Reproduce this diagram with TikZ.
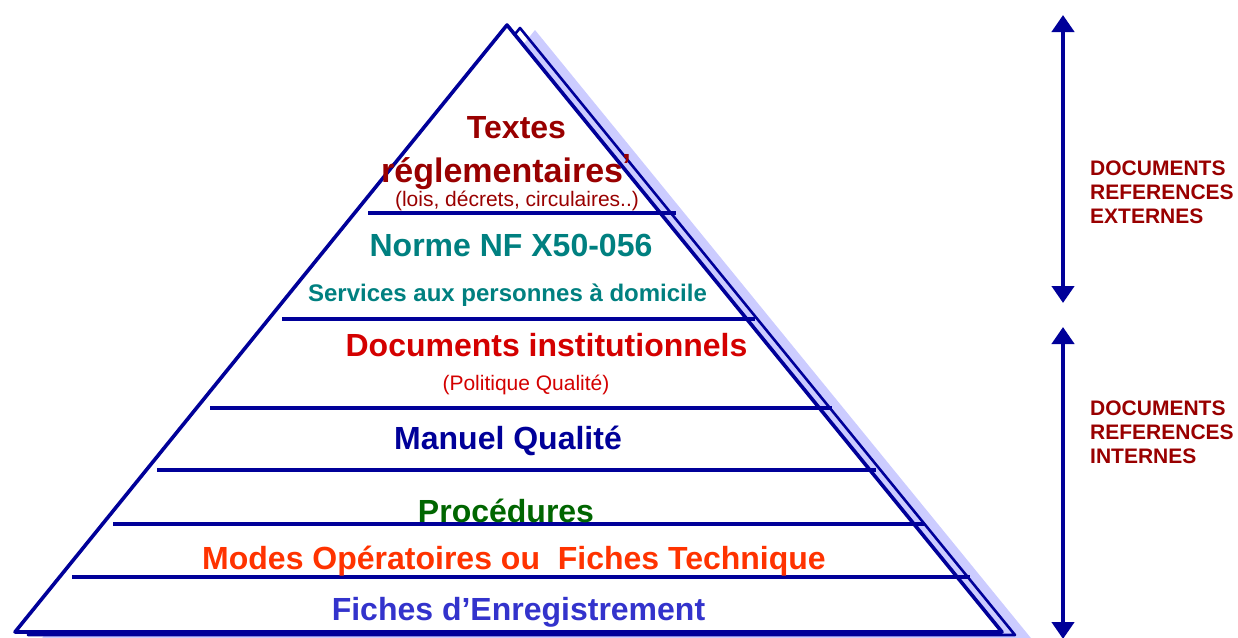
\documentclass[tikz,border=0pt]{standalone}
\usepackage{fontspec}
\setmainfont{Liberation Sans}
\usetikzlibrary{arrows.meta}
\definecolor{navy}{HTML}{000099}
\definecolor{shadowblue}{HTML}{CCCCFF}
\definecolor{darkred}{HTML}{990000}
\definecolor{tealtxt}{HTML}{008080}
\definecolor{redtxt}{HTML}{D40000}
\definecolor{greentxt}{HTML}{006600}
\definecolor{orangetxt}{HTML}{FF3300}
\definecolor{bluetxt}{HTML}{3333CC}
\begin{document}
\begin{tikzpicture}[x=1pt,y=-1pt,
  big/.style={inner sep=0pt, anchor=base, font=\bfseries\fontsize{32}{38}\selectfont},
  mid/.style={inner sep=0pt, anchor=base, font=\bfseries\fontsize{24}{28}\selectfont},
  small/.style={inner sep=0pt, anchor=base, font=\fontsize{21}{25}\selectfont},
  side/.style={inner sep=0pt, anchor=base west, text=darkred,
    font=\bfseries\fontsize{21}{24}\selectfont},
  layer/.style={draw=navy, line width=3.2pt},
  span/.style={draw=navy, line width=4.5pt,
    {Triangle[width=22pt,length=17pt]}-{Triangle[width=22pt,length=17pt]}}]
\useasboundingbox (0,0) rectangle (1238,637);
\clip (0,0) rectangle (1238,637);

% drop shadow of the pyramid
\fill[shadowblue] (535,30) -- (1032.5,640) -- (40.6,640) -- cycle;
% offset outline
\draw[navy, line width=2.6pt, line join=round] (520,28) -- (1015,635) -- (28,635) -- cycle;
% main pyramid
\draw[navy, fill=white, line width=3.6pt, line join=round] (507,25) -- (1002,632) -- (15,632) -- cycle;

% layer separators
\draw[layer] (368,213) -- (676,213);
\draw[layer] (282,319) -- (755,319);
\draw[layer] (210,408) -- (832,408);
\draw[layer] (157,470) -- (876,470);
\draw[layer] (113,524) -- (925,524);
\draw[layer] (72,577) -- (970,577);

% layer texts
\node[big, text=darkred] (t1) at (516.5,138) {Textes};
\node[big, text=darkred, anchor=base west, font=\bfseries\fontsize{34}{40}\selectfont] (t2) at (381,182) {réglementaires};
\node[big, text=darkred, anchor=base west] (t2q) at (622,176) {’};
\node[small, text=darkred] (t3) at (517,206) {(lois, décrets, circulaires..)};
\node[big, text=tealtxt] (n1) at (511,256) {Norme NF X50-056};
\node[mid, text=tealtxt] (n2) at (507.5,301) {Services aux personnes à domicile};
\node[big, text=redtxt] (d1) at (546.5,356) {Documents institutionnels};
\node[small, text=redtxt] (d2) at (526,390) {(Politique Qualité)};
\node[big, text=navy] (mq) at (508,449) {Manuel Qualité};
\node[big, text=greentxt] (pr) at (506,522) {Procédures};
\node[big, text=orangetxt] (mo) at (514,569) {Modes Opératoires ou\ \ Fiches Technique};
\node[big, text=bluetxt] (fe) at (518.5,620) {Fiches d’Enregistrement};

% side ranges
\coordinate (ext-top) at (1063,15);
\coordinate (ext-bot) at (1063,303);
\coordinate (int-top) at (1063,327);
\coordinate (int-bot) at (1063,639);
\draw[span] (ext-top) -- (ext-bot);
\draw[span] (int-top) -- (int-bot);

\node[side] (ext1) at (1090,175) {DOCUMENTS};
\node[side] (ext2) at (1090,199) {REFERENCES};
\node[side] (ext3) at (1090,223) {EXTERNES};
\node[side] (int1) at (1090,415) {DOCUMENTS};
\node[side] (int2) at (1090,439) {REFERENCES};
\node[side] (int3) at (1090,463) {INTERNES};
\end{tikzpicture}
\end{document}
